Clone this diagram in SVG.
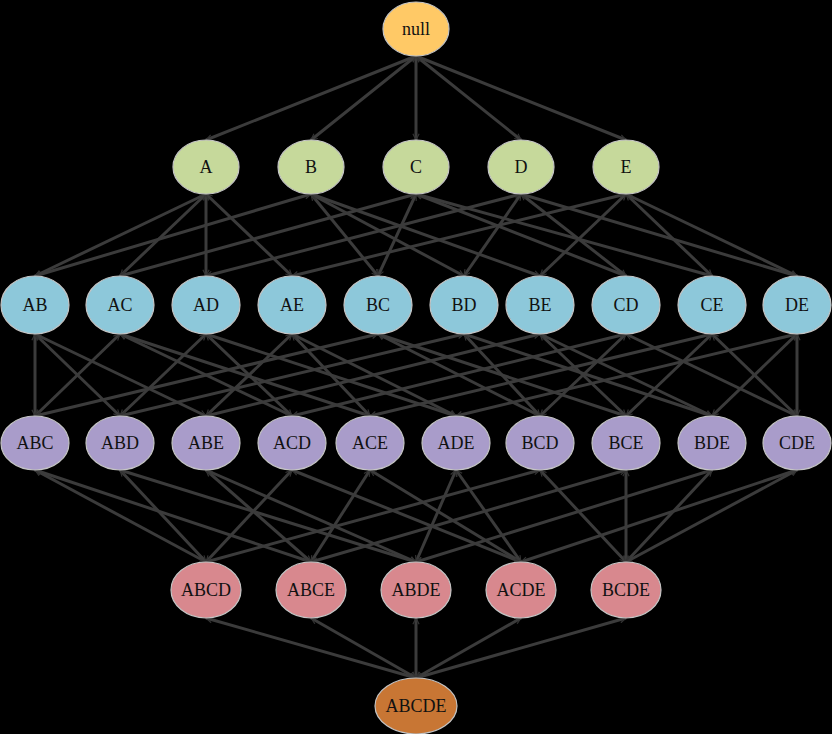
<svg xmlns="http://www.w3.org/2000/svg" width="832" height="734" viewBox="0 0 832 734">
<style>
.e{stroke:#3b3b3b;stroke-width:3;fill:none;marker-start:url(#ah);marker-end:url(#ah)}
.n ellipse{stroke:#c4c4c4;stroke-width:1.2}
.n text{font-family:"Liberation Serif","Times New Roman",serif;font-size:18px;fill:#111;text-anchor:middle;dominant-baseline:central}
.l0{fill:#ffc966}.l1{fill:#c6d99b}.l2{fill:#8dc8da}.l3{fill:#a99cca}.l4{fill:#d8888e}.l5{fill:#c87634}
</style>
<defs>
<marker id="ah" viewBox="0 0 10 10" refX="9" refY="5" markerWidth="2.6" markerHeight="2.6" orient="auto-start-reverse" markerUnits="strokeWidth">
<path d="M1,1 L9,5 L1,9" fill="none" stroke="#333" stroke-width="1.5"/>
</marker>
</defs>
<rect width="832" height="734" fill="#000"/>
<g id="edges">
<path class="e" d="M416,56 L206,140"/>
<path class="e" d="M416,56 L311,140"/>
<path class="e" d="M416,56 L416,140"/>
<path class="e" d="M416,56 L521,140"/>
<path class="e" d="M416,56 L626,140"/>

<path class="e" d="M206,194 L35,276"/>
<path class="e" d="M206,194 L120,276"/>
<path class="e" d="M206,194 L206,276"/>
<path class="e" d="M206,194 L292,276"/>
<path class="e" d="M311,194 L35,276"/>
<path class="e" d="M311,194 L378,276"/>
<path class="e" d="M311,194 L464,276"/>
<path class="e" d="M311,194 L540,276"/>
<path class="e" d="M416,194 L120,276"/>
<path class="e" d="M416,194 L378,276"/>
<path class="e" d="M416,194 L626,276"/>
<path class="e" d="M416,194 L712,276"/>
<path class="e" d="M521,194 L206,276"/>
<path class="e" d="M521,194 L464,276"/>
<path class="e" d="M521,194 L626,276"/>
<path class="e" d="M521,194 L797,276"/>
<path class="e" d="M626,194 L292,276"/>
<path class="e" d="M626,194 L540,276"/>
<path class="e" d="M626,194 L712,276"/>
<path class="e" d="M626,194 L797,276"/>

<path class="e" d="M35,334 L35,416"/>
<path class="e" d="M35,334 L120,416"/>
<path class="e" d="M35,334 L206,416"/>
<path class="e" d="M120,334 L35,416"/>
<path class="e" d="M120,334 L292,416"/>
<path class="e" d="M120,334 L370,416"/>
<path class="e" d="M206,334 L120,416"/>
<path class="e" d="M206,334 L292,416"/>
<path class="e" d="M206,334 L456,416"/>
<path class="e" d="M292,334 L206,416"/>
<path class="e" d="M292,334 L370,416"/>
<path class="e" d="M292,334 L456,416"/>
<path class="e" d="M378,334 L35,416"/>
<path class="e" d="M378,334 L540,416"/>
<path class="e" d="M378,334 L626,416"/>
<path class="e" d="M464,334 L120,416"/>
<path class="e" d="M464,334 L540,416"/>
<path class="e" d="M464,334 L712,416"/>
<path class="e" d="M540,334 L206,416"/>
<path class="e" d="M540,334 L626,416"/>
<path class="e" d="M540,334 L712,416"/>
<path class="e" d="M626,334 L292,416"/>
<path class="e" d="M626,334 L540,416"/>
<path class="e" d="M626,334 L797,416"/>
<path class="e" d="M712,334 L370,416"/>
<path class="e" d="M712,334 L626,416"/>
<path class="e" d="M712,334 L797,416"/>
<path class="e" d="M797,334 L456,416"/>
<path class="e" d="M797,334 L712,416"/>
<path class="e" d="M797,334 L797,416"/>

<path class="e" d="M35,470 L206,562"/>
<path class="e" d="M35,470 L311,562"/>
<path class="e" d="M120,470 L206,562"/>
<path class="e" d="M120,470 L416,562"/>
<path class="e" d="M206,470 L311,562"/>
<path class="e" d="M206,470 L416,562"/>
<path class="e" d="M292,470 L206,562"/>
<path class="e" d="M292,470 L521,562"/>
<path class="e" d="M370,470 L311,562"/>
<path class="e" d="M370,470 L521,562"/>
<path class="e" d="M456,470 L416,562"/>
<path class="e" d="M456,470 L521,562"/>
<path class="e" d="M540,470 L206,562"/>
<path class="e" d="M540,470 L626,562"/>
<path class="e" d="M626,470 L311,562"/>
<path class="e" d="M626,470 L626,562"/>
<path class="e" d="M712,470 L416,562"/>
<path class="e" d="M712,470 L626,562"/>
<path class="e" d="M797,470 L521,562"/>
<path class="e" d="M797,470 L626,562"/>

<path class="e" d="M206,618 L416,678"/>
<path class="e" d="M311,618 L416,678"/>
<path class="e" d="M416,618 L416,678"/>
<path class="e" d="M521,618 L416,678"/>
<path class="e" d="M626,618 L416,678"/>
</g>

<g id="null" class="n"><ellipse class="l0" cx="416" cy="29" rx="33" ry="27"/><text x="416" y="29">null</text></g>

<g id="A" class="n"><ellipse class="l1" cx="206" cy="167" rx="33" ry="27"/><text x="206" y="167">A</text></g>
<g id="B" class="n"><ellipse class="l1" cx="311" cy="167" rx="33" ry="27"/><text x="311" y="167">B</text></g>
<g id="C" class="n"><ellipse class="l1" cx="416" cy="167" rx="33" ry="27"/><text x="416" y="167">C</text></g>
<g id="D" class="n"><ellipse class="l1" cx="521" cy="167" rx="33" ry="27"/><text x="521" y="167">D</text></g>
<g id="E" class="n"><ellipse class="l1" cx="626" cy="167" rx="33" ry="27"/><text x="626" y="167">E</text></g>

<g id="AB" class="n"><ellipse class="l2" cx="35" cy="305" rx="34" ry="29"/><text x="35" y="305">AB</text></g>
<g id="AC" class="n"><ellipse class="l2" cx="120" cy="305" rx="34" ry="29"/><text x="120" y="305">AC</text></g>
<g id="AD" class="n"><ellipse class="l2" cx="206" cy="305" rx="34" ry="29"/><text x="206" y="305">AD</text></g>
<g id="AE" class="n"><ellipse class="l2" cx="292" cy="305" rx="34" ry="29"/><text x="292" y="305">AE</text></g>
<g id="BC" class="n"><ellipse class="l2" cx="378" cy="305" rx="34" ry="29"/><text x="378" y="305">BC</text></g>
<g id="BD" class="n"><ellipse class="l2" cx="464" cy="305" rx="34" ry="29"/><text x="464" y="305">BD</text></g>
<g id="BE" class="n"><ellipse class="l2" cx="540" cy="305" rx="34" ry="29"/><text x="540" y="305">BE</text></g>
<g id="CD" class="n"><ellipse class="l2" cx="626" cy="305" rx="34" ry="29"/><text x="626" y="305">CD</text></g>
<g id="CE" class="n"><ellipse class="l2" cx="712" cy="305" rx="34" ry="29"/><text x="712" y="305">CE</text></g>
<g id="DE" class="n"><ellipse class="l2" cx="797" cy="305" rx="34" ry="29"/><text x="797" y="305">DE</text></g>

<g id="ABC" class="n"><ellipse class="l3" cx="35" cy="443" rx="34" ry="27"/><text x="35" y="443">ABC</text></g>
<g id="ABD" class="n"><ellipse class="l3" cx="120" cy="443" rx="34" ry="27"/><text x="120" y="443">ABD</text></g>
<g id="ABE" class="n"><ellipse class="l3" cx="206" cy="443" rx="34" ry="27"/><text x="206" y="443">ABE</text></g>
<g id="ACD" class="n"><ellipse class="l3" cx="292" cy="443" rx="34" ry="27"/><text x="292" y="443">ACD</text></g>
<g id="ACE" class="n"><ellipse class="l3" cx="370" cy="443" rx="34" ry="27"/><text x="370" y="443">ACE</text></g>
<g id="ADE" class="n"><ellipse class="l3" cx="456" cy="443" rx="34" ry="27"/><text x="456" y="443">ADE</text></g>
<g id="BCD" class="n"><ellipse class="l3" cx="540" cy="443" rx="34" ry="27"/><text x="540" y="443">BCD</text></g>
<g id="BCE" class="n"><ellipse class="l3" cx="626" cy="443" rx="34" ry="27"/><text x="626" y="443">BCE</text></g>
<g id="BDE" class="n"><ellipse class="l3" cx="712" cy="443" rx="34" ry="27"/><text x="712" y="443">BDE</text></g>
<g id="CDE" class="n"><ellipse class="l3" cx="797" cy="443" rx="34" ry="27"/><text x="797" y="443">CDE</text></g>

<g id="ABCD" class="n"><ellipse class="l4" cx="206" cy="590" rx="35" ry="28"/><text x="206" y="590">ABCD</text></g>
<g id="ABCE" class="n"><ellipse class="l4" cx="311" cy="590" rx="35" ry="28"/><text x="311" y="590">ABCE</text></g>
<g id="ABDE" class="n"><ellipse class="l4" cx="416" cy="590" rx="35" ry="28"/><text x="416" y="590">ABDE</text></g>
<g id="ACDE" class="n"><ellipse class="l4" cx="521" cy="590" rx="35" ry="28"/><text x="521" y="590">ACDE</text></g>
<g id="BCDE" class="n"><ellipse class="l4" cx="626" cy="590" rx="35" ry="28"/><text x="626" y="590">BCDE</text></g>

<g id="ABCDE" class="n"><ellipse class="l5" cx="416" cy="706" rx="41" ry="28"/><text x="416" y="706">ABCDE</text></g>
</svg>
